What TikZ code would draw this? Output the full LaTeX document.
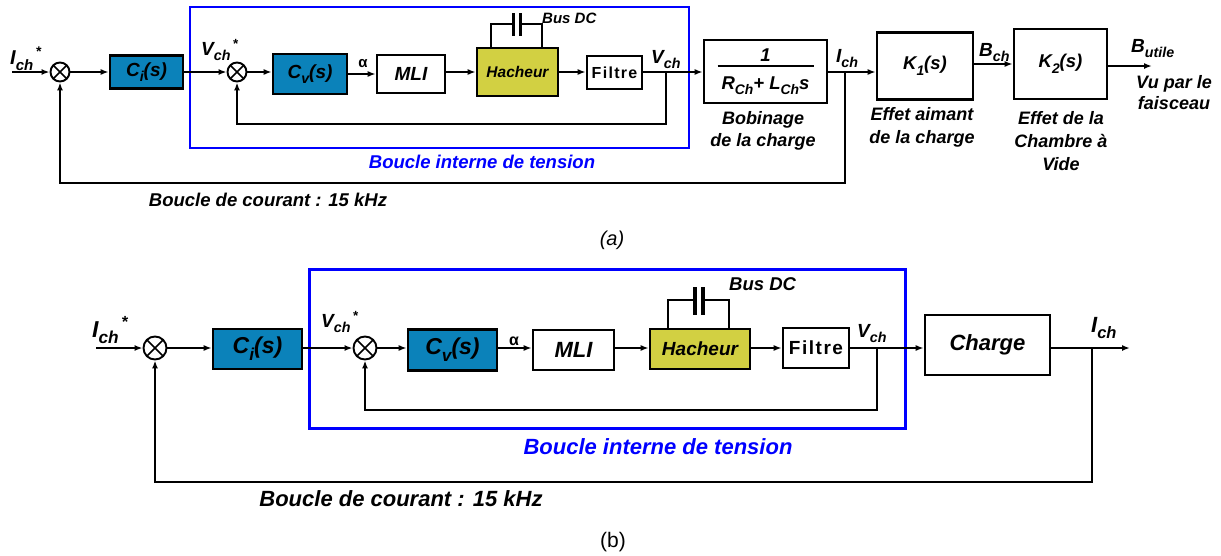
\documentclass[tikz,border=0pt]{standalone}
\usepackage{fontspec}
\usepackage{graphicx}
\setmainfont{Liberation Sans}
\usetikzlibrary{arrows.meta}
\definecolor{bleuctrl}{HTML}{0B82BA}
\definecolor{jaune}{HTML}{D2D042}
\definecolor{cadrebleu}{HTML}{0000FF}
\newcommand{\taille}[1]{\fontsize{#1}{#1}\selectfont}
\newcommand{\ind}[1]{\raisebox{-0.3em}{\scalebox{0.75}{#1}}}

\begin{document}
\begin{tikzpicture}[x=1pt,y=-1pt,
    bloc/.style={draw,line width=2.6pt,inner sep=0pt,font=\bfseries\itshape},
    ctrl/.style={bloc,fill=bleuctrl},
    hach/.style={bloc,fill=jaune},
    somme/.style={draw,circle,line width=1.9pt,inner sep=0pt,fill=white,
      path picture={\draw[line width=1.5pt]
        (path picture bounding box.south west) -- (path picture bounding box.north east)
        (path picture bounding box.north west) -- (path picture bounding box.south east);}},
    ln/.style={line width=2.1pt},
    fl/.style={ln,-{Latex[length=8pt,width=6pt]}},
    cadre/.style={draw=cadrebleu,line width=2.6pt},
    lab/.style={inner sep=0pt,font=\bfseries\itshape}]
  \useasboundingbox (0,0) rectangle (1221,555);

  % (a)
  \draw[cadre] (190,7) rectangle (689,148);
  \coordinate (inA) at (12,72);
  \node[somme,minimum size=19pt] (sA1) at (60,72) {};
  \node[ctrl,minimum width=73pt,minimum height=33pt,font=\bfseries\itshape\taille{19}] (CiA) at (146.5,72) {C\ind{i}(s)};
  \node[somme,minimum size=19pt] (sA2) at (237,72) {};
  \node[ctrl,minimum width=74pt,minimum height=40pt,font=\bfseries\itshape\taille{19}] (CvA) at (310,74) {C\ind{v}(s)};
  \node[bloc,minimum width=68pt,minimum height=38pt,font=\bfseries\itshape\taille{19}] (mliA) at (411,74) {MLI};
  \node[hach,minimum width=81pt,minimum height=48pt,font=\bfseries\itshape\taille{15.5}] (hachA) at (517.5,72) {Hacheur};
  \node[bloc,minimum width=55pt,minimum height=33pt,font=\bfseries\taille{16}\addfontfeatures{LetterSpace=8}] (filtreA) at (614.5,72.5) {Filtre};
  \node[bloc,minimum width=123pt,minimum height=63pt,align=center,font=\bfseries\itshape\taille{18.5}] (bobA) at (765.5,71.5)
    {1\\[-13pt]\rule{96pt}{1.8pt}\\[4pt]R\ind{Ch}+ L\ind{Ch}s};
  \node[bloc,minimum width=96pt,minimum height=67pt,font=\bfseries\itshape\taille{18.5}] (k1A) at (925,66) {K\ind{1}(s)};
  \node[bloc,minimum width=93pt,minimum height=70pt,font=\bfseries\itshape\taille{18.5}] (k2A) at (1060.5,64) {K\ind{2}(s)};
  \coordinate (vA) at (666,72);
  \coordinate (iA) at (845,72);
  \coordinate (outA) at (1152,66);

  \draw[fl] (inA) -- (sA1);
  \draw[fl] (sA1) -- (CiA);
  \draw[fl] (CiA) -- (sA2);
  \draw[fl] (sA2) -- (sA2 -| CvA.west);
  \draw[fl] (CvA.east |- mliA) -- (mliA);
  \draw[fl] (mliA.east |- hachA) -- (hachA);
  \draw[fl] (hachA) -- (filtreA.west |- hachA);
  \draw[fl] (filtreA.east |- vA) -- (bobA.west |- vA);
  \draw[fl] (vA) -- ++(0,52) -| (sA2.south);
  \draw[fl] (bobA.east |- iA) -- (k1A.west |- iA);
  \draw[fl] (iA) -- ++(0,111) -| (sA1.south);
  \draw[fl] (k1A.east |- k2A) -- (k2A);
  \draw[fl] (k2A.east |- outA) -- (outA);
  % condensateur
  \draw[ln] ([xshift=-26.5pt]hachA.north) |- (513,24);
  \draw[ln] ([xshift=24.5pt]hachA.north) |- (520,24);
  \draw[line width=3pt] (513,13) -- (513,36) (520,13) -- (520,36);

  \node[lab,anchor=base west,font=\bfseries\itshape\taille{20}] (lIrefA) at (10,64) {I\ind{ch}\textsuperscript{\,*}};
  \node[lab,anchor=base west,font=\bfseries\itshape\taille{19}] (lVrefA) at (201,55) {V\ind{ch}\textsuperscript{\,*}};
  \node[lab,font=\bfseries\taille{15}] (lalphaA) at (363,64) {α};
  \node[lab,anchor=west,font=\bfseries\itshape\taille{15}] (lbusA) at (542,18) {Bus DC};
  \node[lab,anchor=base west,font=\bfseries\itshape\taille{19}] (lVA) at (651,63) {V\ind{ch}};
  \node[lab,anchor=base west,font=\bfseries\itshape\taille{19}] (lIA) at (836,62) {I\ind{ch}};
  \node[lab,anchor=base west,font=\bfseries\itshape\taille{19}] (lBA) at (979,56) {B\ind{ch}};
  \node[lab,anchor=base west,font=\bfseries\itshape\taille{19}] (lButA) at (1131,52) {B\ind{utile}};
  \node[lab,align=center,font=\bfseries\itshape\taille{18}] (lVuA) at (1174,93) {Vu par le\\[3pt]faisceau};
  \node[lab,align=center,font=\bfseries\itshape\taille{18}] (lbobA) at (763,131) {Bobinage\\[4pt]de la charge};
  \node[lab,align=center,font=\bfseries\itshape\taille{18}] (lk1A) at (922,127) {Effet aimant\\[5pt]de la charge};
  \node[lab,align=center,font=\bfseries\itshape\taille{18}] (lk2A) at (1061,141) {Effet de la\\[5pt]Chambre à\\[5pt]Vide};
  \node[lab,text=cadrebleu,font=\bfseries\itshape\taille{18.5}] (lintA) at (482,162) {Boucle interne de tension};
  \node[lab,font=\bfseries\itshape\taille{18.5}] (lcourA) at (268,200) {Boucle de courant : 15 kHz};
  \node[lab,font=\itshape\taille{20}] (lcapA) at (612,240) {(a)};

  % (b)
  \draw[cadre,line width=3pt] (309,269) rectangle (905,428);
  \coordinate (inB) at (96,348);
  \node[somme,minimum size=23pt] (sB1) at (155,348) {};
  \node[ctrl,minimum width=89pt,minimum height=40pt,font=\bfseries\itshape\taille{23}] (CiB) at (257.5,349) {C\ind{i}(s)};
  \node[somme,minimum size=23pt] (sB2) at (365,348) {};
  \node[ctrl,minimum width=89pt,minimum height=41pt,font=\bfseries\itshape\taille{23}] (CvB) at (452.5,350) {C\ind{v}(s)};
  \node[bloc,minimum width=81pt,minimum height=40pt,font=\bfseries\itshape\taille{22}] (mliB) at (573.5,350) {MLI};
  \node[hach,minimum width=100pt,minimum height=40pt,font=\bfseries\itshape\taille{19}] (hachB) at (700,349) {Hacheur};
  \node[bloc,minimum width=66pt,minimum height=40pt,font=\bfseries\taille{19}\addfontfeatures{LetterSpace=8}] (filtreB) at (816,348) {Filtre};
  \node[bloc,minimum width=125pt,minimum height=60pt,font=\bfseries\itshape\taille{22}] (chargeB) at (987.5,345) {Charge};
  \coordinate (vB) at (877,348);
  \coordinate (iB) at (1092,348);
  \coordinate (outB) at (1130,348);

  \draw[fl,line width=2.3pt] (inB) -- (sB1);
  \draw[fl,line width=2.3pt] (sB1) -- (sB1 -| CiB.west);
  \draw[fl,line width=2.3pt] (CiB.east |- sB2) -- (sB2);
  \draw[fl,line width=2.3pt] (sB2) -- (sB2 -| CvB.west);
  \draw[fl,line width=2.3pt] (CvB.east |- vB) -- (mliB.west |- vB);
  \draw[fl,line width=2.3pt] (mliB.east |- vB) -- (hachB.west |- vB);
  \draw[fl,line width=2.3pt] (hachB.east |- vB) -- (filtreB.west |- vB);
  \draw[fl,line width=2.3pt] (filtreB.east |- vB) -- (chargeB.west |- vB);
  \draw[fl,line width=2.3pt] (vB) -- ++(0,62) -| (sB2.south);
  \draw[fl,line width=2.3pt] (chargeB.east |- iB) -- (outB);
  \draw[fl,line width=2.3pt] (iB) -- ++(0,134) -| (sB1.south);
  % condensateur
  \draw[ln,line width=2.3pt] ([xshift=-32pt]hachB.north) |- (695,300);
  \draw[ln,line width=2.3pt] ([xshift=29pt]hachB.north) |- (703,300);
  \draw[line width=3.2pt] (695,287) -- (695,315) (703,287) -- (703,315);

  \node[lab,anchor=base west,font=\bfseries\itshape\taille{23}] (lIrefB) at (92,337) {I\ind{ch}\textsuperscript{\,*}};
  \node[lab,anchor=base west,font=\bfseries\itshape\taille{19}] (lVrefB) at (321,327) {V\ind{ch}\textsuperscript{\,*}};
  \node[lab,font=\bfseries\taille{16}] (lalphaB) at (514,341) {α};
  \node[lab,anchor=west,font=\bfseries\itshape\taille{18.5}] (lbusB) at (729,284) {Bus DC};
  \node[lab,anchor=base west,font=\bfseries\itshape\taille{19}] (lVB) at (857,337) {V\ind{ch}};
  \node[lab,anchor=base west,font=\bfseries\itshape\taille{22}] (lIB) at (1091,332) {I\ind{ch}};
  \node[lab,text=cadrebleu,font=\bfseries\itshape\taille{22}] (lintB) at (658,447) {Boucle interne de tension};
  \node[lab,font=\bfseries\itshape\taille{22}] (lcourB) at (401,499) {Boucle de courant : 15 kHz};
  \node[lab,font=\taille{21}] (lcapB) at (613,542) {(b)};
\end{tikzpicture}
\end{document}
